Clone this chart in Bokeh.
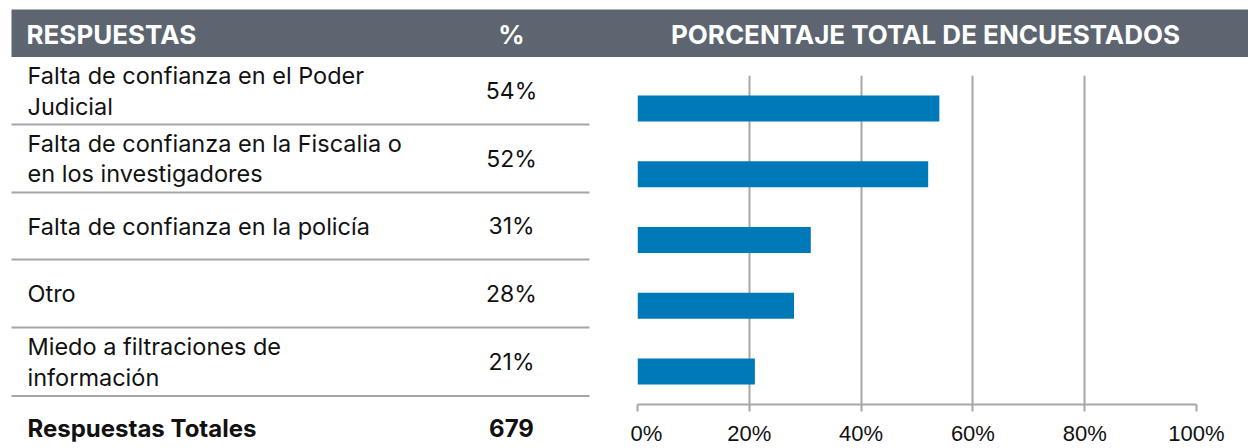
from bokeh.plotting import figure
from bokeh.models import Range1d, FactorRange, FixedTicker, PrintfTickFormatter
from bokeh.layouts import column, row
from bokeh.core.properties import value
from bokeh.embed import file_html
from bokeh.resources import INLINE

# ---------------- data ----------------
respuestas = [
    "Falta de confianza en el Poder\nJudicial",
    "Falta de confianza en la Fiscalia o\nen los investigadores",
    "Falta de confianza en la policía",
    "Otro",
    "Miedo a filtraciones de\ninformación",
]
porcentajes = [54, 52, 31, 28, 21]
total_label = "Respuestas Totales"
total_value = 679
header_left = "RESPUESTAS"
header_mid = "%"
header_right = "PORCENTAJE TOTAL DE ENCUESTADOS"
x_ticks = [0, 20, 40, 60, 80, 100]

# ---------------- styles / layout ----------------
HEADER_BG = "#5d6670"
BAR_COLOR = "#0079b9"
GRID = "#a6a6a6"
TEXT = "#111111"
BODY_FONT = value("Inter")

PAGE_W, PAGE_H = 1248, 448
HEAD_H = 57
TABLE_W = 630
n = len(respuestas)


def blank(width, height, xr, yr):
    f = figure(width=width, height=height, output_backend="svg", toolbar_location=None,
               x_range=xr, y_range=yr, x_axis_location=None, y_axis_location=None,
               min_border=0)
    f.outline_line_color = None
    f.grid.visible = False
    f.background_fill_color = "white"
    f.border_fill_color = "white"
    return f


# ---------- header strip ----------
ph = blank(PAGE_W, HEAD_H, Range1d(0, PAGE_W), Range1d(HEAD_H, 0))
ph.quad(left=[11], right=[PAGE_W + 2], top=[9], bottom=[56.5],
        fill_color=HEADER_BG, line_color=None)
ph.text(x=[26, 511, 925], y=[33.5, 33.5, 33.5], text=[header_left, header_mid, header_right],
        text_align=["left", "center", "center"], text_baseline="middle",
        text_color="white", text_font=BODY_FONT, text_font_style="bold",
        text_font_size="26px")

# ---------- table ----------
pt = blank(TABLE_W, PAGE_H - HEAD_H, Range1d(0, TABLE_W), Range1d(PAGE_H, HEAD_H))
row_bounds = [56.5, 124, 192, 259, 327, 395.5, 460]
centers = [(row_bounds[i] + row_bounds[i + 1]) / 2 for i in range(n)]
pt.text(x=[27] * n, y=centers, text=respuestas, text_align="left",
        text_baseline="middle", text_color=TEXT, text_font=BODY_FONT,
        text_font_size="23.5px", text_line_height=1.06)
pt.text(x=[511] * n, y=centers, text=[f"{v}%" for v in porcentajes],
        text_align="center", text_baseline="middle", text_color=TEXT,
        text_font=BODY_FONT, text_font_size="23px")
seps = row_bounds[1:-1]
pt.segment(x0=[11] * len(seps), x1=[589] * len(seps), y0=seps, y1=seps,
           line_color=GRID, line_width=2)
yt = (row_bounds[-2] + row_bounds[-1]) / 2
pt.text(x=[27, 511], y=[yt, yt], text=[total_label, str(total_value)],
        text_align=["left", "center"], text_baseline="middle", text_color=TEXT,
        text_font=BODY_FONT, text_font_style="bold", text_font_size="24px")

# ---------- bar chart ----------
# frame in page pixels: x 637..1196, y 75..406
pc = figure(width=PAGE_W - TABLE_W, height=PAGE_H - HEAD_H, output_backend="svg",
            toolbar_location=None,
            x_range=Range1d(0, 100),
            y_range=FactorRange(factors=list(reversed(respuestas)), range_padding=0),
            min_border_left=637 - TABLE_W, min_border_right=PAGE_W - 1196,
            min_border_top=75 - HEAD_H, min_border_bottom=PAGE_H - 406)
pc.outline_line_color = None
pc.background_fill_color = "white"
pc.border_fill_color = "white"
pc.hbar(y=respuestas, right=porcentajes, left=0, height=0.395,
        color=BAR_COLOR, line_color=None)
pc.yaxis.visible = False
pc.ygrid.visible = False
ax = pc.xaxis[0]
ax.ticker = FixedTicker(ticks=x_ticks)
ax.formatter = PrintfTickFormatter(format="%d%%")
ax.axis_line_color = GRID
ax.axis_line_width = 2
ax.major_tick_line_color = GRID
ax.major_tick_line_width = 2
ax.major_tick_out = 7
ax.major_tick_in = 0
ax.minor_tick_line_color = None
ax.major_label_standoff = 9
ax.major_label_text_font = "Liberation Sans"
ax.major_label_text_font_size = "22px"
ax.major_label_text_color = TEXT
pc.xgrid.grid_line_color = GRID
pc.xgrid.grid_line_width = 2

layout = column(ph, row(column(pt), column(pc), spacing=0), spacing=0)
open("out.html", "w").write(file_html(layout, INLINE))
